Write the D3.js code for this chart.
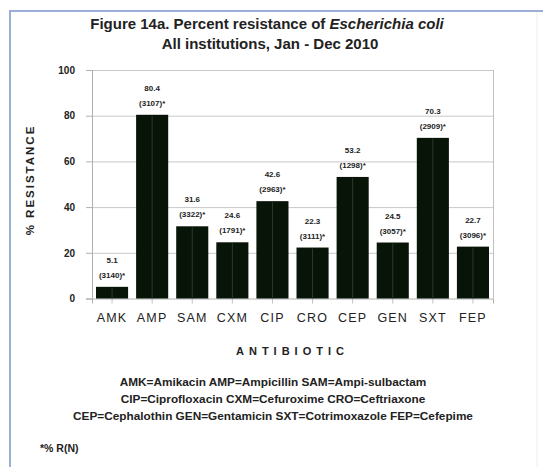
<!DOCTYPE html>
<html>
<head>
<meta charset="utf-8">
<script src="https://cdn.jsdelivr.net/npm/d3@7"></script>
<style>
  html, body { margin: 0; padding: 0; background: #ffffff; }
  svg { display: block; font-family: "Liberation Sans", Arial, sans-serif; }
</style>
</head>
<body>
<svg id="chart" width="543" height="467"></svg>
<script>
// Antibiotic codes along the x axis
const antibiotics = ["AMK", "AMP", "SAM", "CXM", "CIP", "CRO", "CEP", "GEN", "SXT", "FEP"];
// Percent resistant isolates
const resistance = [5.1, 80.4, 31.6, 24.6, 42.6, 22.3, 53.2, 24.5, 70.3, 22.7];
// Number of isolates tested
const isolates = [3140, 3107, 3322, 1791, 2963, 3111, 1298, 3057, 2909, 3096];
// Y axis ticks
const yTicks = [0, 20, 40, 60, 80, 100];
// Abbreviation key below the chart
const keyLines = [
  "AMK=Amikacin AMP=Ampicillin SAM=Ampi-sulbactam",
  "CIP=Ciprofloxacin CXM=Cefuroxime CRO=Ceftriaxone",
  "CEP=Cephalothin GEN=Gentamicin SXT=Cotrimoxazole FEP=Cefepime"
];

const svg = d3.select("#chart");
const W = 543, H = 467;

// outer frame
svg.append("rect").attr("x", 0).attr("y", 0).attr("width", W).attr("height", H).attr("fill", "#ffffff");
svg.append("line").attr("x1", 9).attr("x2", W).attr("y1", 11).attr("y2", 11)
  .attr("stroke", "#9aaed6").attr("stroke-width", 2);
svg.append("line").attr("x1", 10).attr("x2", 10).attr("y1", 10).attr("y2", H)
  .attr("stroke", "#9aaed6").attr("stroke-width", 2);
svg.append("line").attr("x1", 537).attr("x2", 537).attr("y1", 12).attr("y2", H)
  .attr("stroke", "#ececec").attr("stroke-width", 1);

// title
const title = svg.append("text").attr("x", 267).attr("y", 29).attr("text-anchor", "middle")
  .attr("font-size", 15).attr("font-weight", "bold").attr("fill", "#222");
title.append("tspan").text("Figure 14a. Percent resistance of ");
title.append("tspan").attr("font-style", "italic").text("Escherichia coli");
svg.append("text").attr("x", 270).attr("y", 49).attr("text-anchor", "middle")
  .attr("font-size", 15).attr("font-weight", "bold").attr("fill", "#222")
  .text("All institutions, Jan - Dec 2010");

// plot area
const plotLeft = 92, plotRight = 493, plotTop = 70, plotBottom = 298.5;

const x = d3.scaleBand().domain(antibiotics).range([plotLeft, plotRight]).paddingInner(0.2).paddingOuter(0.1);
const y = d3.scaleLinear().domain([0, 100]).range([plotBottom, plotTop]);

// gridlines
svg.append("g").selectAll("line").data(yTicks.filter(t => t > 0)).join("line")
  .attr("x1", plotLeft).attr("x2", plotRight)
  .attr("y1", d => y(d) + 0.5).attr("y2", d => y(d) + 0.5)
  .attr("stroke", "#c8c8c8").attr("stroke-width", 1);

// plot border (right side)
svg.append("line").attr("x1", plotRight + 0.5).attr("x2", plotRight + 0.5).attr("y1", plotTop).attr("y2", plotBottom)
  .attr("stroke", "#c0c0c0");

// y axis
const yAxis = svg.append("g").attr("transform", `translate(${plotLeft},0)`)
  .call(d3.axisLeft(y).tickValues(yTicks).tickSize(6).tickPadding(11));
yAxis.select(".domain").attr("stroke", "#b0b0b0");
yAxis.selectAll(".tick line").attr("stroke", "#b0b0b0");
yAxis.selectAll(".tick text").attr("font-size", 10).attr("font-weight", "bold").attr("fill", "#222")
  .attr("font-family", "'Liberation Sans', Arial, sans-serif");

// x axis
const xAxis = svg.append("g").attr("transform", `translate(0,${plotBottom})`)
  .call(d3.axisBottom(x).tickSize(5).tickPadding(10));
xAxis.select(".domain").attr("stroke", "#b0b0b0");
xAxis.selectAll(".tick line").attr("stroke", "#c0c0c0");
xAxis.selectAll(".tick text").attr("font-size", 12.5).attr("fill", "#222")
  .attr("font-family", "'Liberation Sans', Arial, sans-serif")
  .attr("letter-spacing", 1.2);

// bars
const bars = svg.append("g");
bars.selectAll("rect").data(antibiotics).join("rect")
  .attr("x", d => x(d))
  .attr("y", (d, i) => y(resistance[i]))
  .attr("width", x.bandwidth())
  .attr("height", (d, i) => y(0) - y(resistance[i]))
  .attr("fill", "#071407");
// faint highlight down the middle of each bar
bars.selectAll("line").data(antibiotics).join("line")
  .attr("x1", d => x(d) + x.bandwidth() / 2).attr("x2", d => x(d) + x.bandwidth() / 2)
  .attr("y1", (d, i) => y(resistance[i]) + 1).attr("y2", y(0))
  .attr("stroke", "#2c3a2c").attr("stroke-width", 1);

// value labels
const labels = svg.append("g").attr("font-size", 8).attr("font-weight", "bold").attr("fill", "#222")
  .attr("text-anchor", "middle");
antibiotics.forEach((a, i) => {
  const cx = x(a) + x.bandwidth() / 2;
  const ty = y(resistance[i]);
  labels.append("text").attr("x", cx).attr("y", ty - 24).text(resistance[i].toFixed(1));
  labels.append("text").attr("x", cx).attr("y", ty - 9).text(`(${isolates[i]})*`);
});

// axis titles
svg.append("text").attr("x", (plotLeft + plotRight) / 2).attr("y", 355).attr("text-anchor", "middle")
  .attr("font-size", 11).attr("font-weight", "bold").attr("fill", "#222")
  .attr("letter-spacing", 5).text("ANTIBIOTIC");
svg.append("text").attr("transform", "translate(34,180) rotate(-90)").attr("text-anchor", "middle")
  .attr("font-size", 11.5).attr("font-weight", "bold").attr("fill", "#222")
  .attr("letter-spacing", 2).text("% RESISTANCE");

// abbreviation key
svg.append("g").selectAll("text").data(keyLines).join("text")
  .attr("x", 273).attr("y", (d, i) => 386 + i * 17)
  .attr("text-anchor", "middle").attr("font-size", 11.8).attr("font-weight", "bold").attr("fill", "#222")
  .text(d => d);

// footnote
svg.append("text").attr("x", 40).attr("y", 452).attr("font-size", 10.5).attr("font-weight", "bold")
  .attr("fill", "#222").text("*% R(N)");
</script>
</body>
</html>
